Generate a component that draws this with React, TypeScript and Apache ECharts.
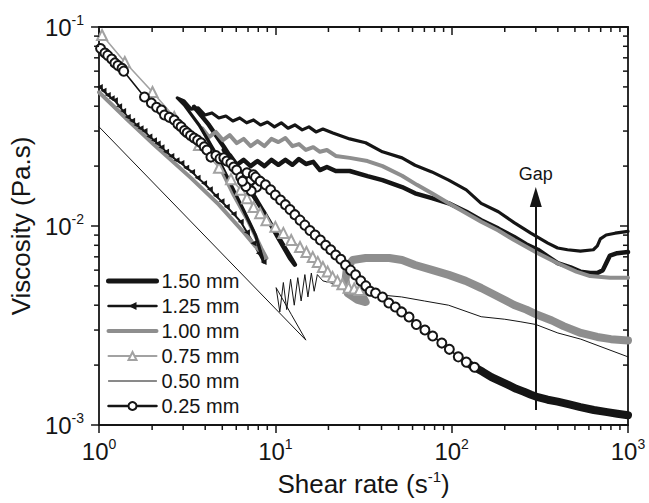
import React, { useEffect, useRef } from 'react';
import * as echarts from 'echarts';

const FONT = '"Liberation Sans", Arial, Helvetica, sans-serif';
const INK = '#151515';
const GRAY_THICK = '#8e8e8e';
const GRAY_THIN = '#a2a2a2';

const X_MIN = 1;
const X_MAX = 1000;
const Y_MIN = 0.001;
const Y_MAX = 0.1;

const legendNames = ['1.50 mm', '1.25 mm', '1.00 mm', '0.75 mm', '0.50 mm', '0.25 mm'];
const xMinorTicks = [2, 3, 4, 5, 6, 7, 8, 9, 20, 30, 40, 50, 60, 70, 80, 90, 200, 300, 400, 500, 600, 700, 800, 900];
const yMinorTicks = [0.002, 0.003, 0.004, 0.005, 0.006, 0.007, 0.008, 0.009, 0.02, 0.03, 0.04, 0.05, 0.06, 0.07, 0.08, 0.09];

// 1.50 mm (thick black)
const gap150: number[][] = [
  [3.46, 0.0397], [4.2, 0.0322], [5.1, 0.025], [6.2, 0.0191], [7.52, 0.0143], [9.14, 0.0107], [11.1, 0.008], [12.9, 0.0064],
  [12.1, 0.0069], [10.4, 0.0087], [8.57, 0.0118], [7.05, 0.0155], [5.81, 0.0203], [5.1, 0.0241], [5.51, 0.0227],
  [6.04, 0.0203], [6.61, 0.0215], [7.24, 0.02], [7.92, 0.0212], [8.67, 0.02], [9.5, 0.0215], [10.4, 0.0203], [11.4, 0.0215],
  [12.5, 0.0203], [13.6, 0.0217], [14.9, 0.0205], [16.4, 0.021], [17.9, 0.0191], [19.6, 0.0198], [22.0, 0.0189], [26.4, 0.0189],
  [33.3, 0.0178], [40.5, 0.017], [52.3, 0.0157], [62.0, 0.0146], [77.2, 0.0138], [96.2, 0.013], [121, 0.0118], [147, 0.0107],
  [184, 0.0097], [226, 0.0088], [264, 0.0081], [308, 0.0076], [399, 0.0065], [472, 0.0062], [537, 0.0059], [610, 0.0058],
  [670, 0.0058], [720, 0.006], [752, 0.0065], [790, 0.0071], [868, 0.0073], [1000, 0.0074],
];

// 1.25 mm: low-rate part with markers
const gap125Marked: number[][] = [
  [1.01, 0.05], [1.06, 0.0478], [1.12, 0.0455], [1.18, 0.0438], [1.23, 0.0428], [1.3, 0.04], [1.37, 0.0378], [1.455, 0.0353],
  [1.54, 0.0338], [1.63, 0.0322], [1.72, 0.031], [1.81, 0.03], [1.93, 0.0282], [2.05, 0.027], [2.15, 0.026], [2.26, 0.0249],
  [2.4, 0.0236], [2.57, 0.0225], [2.75, 0.0214], [2.93, 0.0207], [3.12, 0.0196], [3.37, 0.0187], [3.62, 0.0175], [3.94, 0.0164],
  [4.25, 0.0153], [4.6, 0.0142], [4.95, 0.0133], [5.3, 0.0125], [5.8, 0.0115], [6.36, 0.0105], [6.9, 0.0093], [7.52, 0.0082],
  [8.05, 0.0073], [8.57, 0.0066],
];
// 1.25 mm: return branch and plateau
const gap125Rest: number[][] = [
  [8.57, 0.0066], [7.72, 0.009], [6.61, 0.012], [5.45, 0.017], [4.48, 0.0241], [3.69, 0.0322], [3.04, 0.0406], [2.78, 0.044],
  [3.04, 0.0425], [3.33, 0.0387], [3.65, 0.0392], [3.99, 0.0361], [4.37, 0.037], [4.78, 0.0349], [5.24, 0.0357], [5.74, 0.0337],
  [6.28, 0.0349], [6.87, 0.033], [7.52, 0.0341], [8.24, 0.0322], [9.02, 0.0333], [9.88, 0.0315], [10.8, 0.033], [11.8, 0.031],
  [12.9, 0.0322], [14.2, 0.0304], [15.5, 0.0315], [17.0, 0.0297], [18.6, 0.0307], [21.2, 0.0293], [26.4, 0.0274], [32.5, 0.0262],
  [40.5, 0.0236], [52.3, 0.022], [62.0, 0.0202], [77.2, 0.0187], [96.2, 0.017], [121, 0.0152], [147, 0.013], [184, 0.0118],
  [226, 0.0104], [281, 0.0092], [351, 0.0082], [399, 0.00775], [454, 0.0076], [537, 0.00748], [636, 0.0076], [670, 0.00794],
  [697, 0.00861], [752, 0.00901], [845, 0.0092], [1000, 0.0094],
];

// 1.00 mm (thick gray)
const gap100: number[][] = [
  [1.0, 0.047], [1.455, 0.0341], [2.06, 0.0255], [3.33, 0.0174], [4.78, 0.0128], [6.61, 0.0093], [7.72, 0.0079], [8.9, 0.0069],
  [8.34, 0.0077], [7.05, 0.0105], [5.81, 0.0143], [4.78, 0.0203], [4.09, 0.0277], [3.84, 0.031], [4.2, 0.028], [4.6, 0.0297],
  [5.04, 0.027], [5.51, 0.0286], [6.04, 0.0261], [6.61, 0.0274], [7.24, 0.0252], [7.92, 0.0267], [8.67, 0.0252], [9.5, 0.0274],
  [10.4, 0.0264], [11.4, 0.0277], [12.5, 0.0252], [13.6, 0.0258], [14.9, 0.0241], [16.4, 0.0249], [17.9, 0.0236], [19.6, 0.0241],
  [22.0, 0.0225], [26.4, 0.022], [33.3, 0.0212], [40.5, 0.02], [52.3, 0.0179], [63.5, 0.0161], [77.2, 0.0146], [96.2, 0.013],
  [121, 0.0116], [147, 0.0105], [184, 0.0095], [226, 0.0085], [308, 0.0073], [399, 0.0065], [509, 0.0059], [610, 0.0056],
  [790, 0.0055], [1000, 0.0055],
];

// 0.75 mm: triangles part
const gap075Marked: number[][] = [
  [1.04, 0.0912], [1.4, 0.0667], [2.01, 0.0471], [2.67, 0.0353], [3.69, 0.0255], [4.79, 0.0196], [5.6, 0.0172], [6.36, 0.0152],
  [6.9, 0.0138], [7.52, 0.01245], [8.2, 0.0116], [8.9, 0.0107], [10.0, 0.0099], [11.1, 0.00923], [12.3, 0.0085], [13.8, 0.00784],
  [15.0, 0.0074], [16.3, 0.00698], [17.4, 0.0066], [18.6, 0.00622], [19.8, 0.0059], [21.1, 0.00555], [22.5, 0.0053], [24.0, 0.0051],
  [26.0, 0.0049], [28.0, 0.00485], [30.0, 0.00477],
];
// 0.75 mm: dense band at higher rates
const gap075Band: number[][] = [
  [30.0, 0.00477], [32.5, 0.00415], [29.3, 0.00425], [25.7, 0.0046], [25.0, 0.00536], [25.5, 0.0062], [27.5, 0.00675],
  [32.5, 0.0069], [44.3, 0.0069], [52.3, 0.00675], [62.0, 0.00637], [78.0, 0.006], [96.2, 0.00568], [120, 0.0053], [147, 0.00488],
  [185, 0.0044], [226, 0.00401], [265, 0.0038], [308, 0.00357], [370, 0.00335], [431, 0.00314], [540, 0.0029], [670, 0.00277],
  [800, 0.0027], [1000, 0.00266],
];

// 0.50 mm (thin black)
const gap050: number[][] = [
  [1.0, 0.0315], [14.9, 0.00267], [12.3, 0.0036], [10.1, 0.0049], [10.6, 0.0037], [11.1, 0.0052], [11.6, 0.0038], [12.2, 0.0054],
  [12.8, 0.004], [13.4, 0.0055], [14.0, 0.0042], [14.7, 0.0057], [15.3, 0.0044], [16.0, 0.0058], [16.6, 0.0047], [17.3, 0.0057],
  [18.6, 0.0053], [22.0, 0.0051], [27.0, 0.0049], [33.0, 0.0048], [40.0, 0.0045], [52.0, 0.0044], [70.0, 0.0042], [96.0, 0.004],
  [147, 0.0035], [200, 0.0034], [247, 0.0033], [300, 0.0032], [400, 0.0029], [540, 0.0027], [1000, 0.0022],
];

// 0.25 mm: circle markers part
const gap025Marked: number[][] = [
  [1.02, 0.078], [1.08, 0.074], [1.12, 0.072], [1.18, 0.069], [1.23, 0.066], [1.28, 0.064], [1.35, 0.062], [1.38, 0.06],
  [1.81, 0.0445], [1.98, 0.0415], [2.12, 0.0395], [2.26, 0.0383], [2.35, 0.0361], [2.5, 0.0352], [2.67, 0.0341], [2.8, 0.0325],
  [2.92, 0.0315], [3.05, 0.0302], [3.16, 0.0294], [3.3, 0.0285], [3.46, 0.0277], [3.62, 0.027], [3.79, 0.0262], [3.95, 0.025],
  [4.09, 0.0241], [4.31, 0.0222], [4.6, 0.0226], [4.85, 0.0218], [5.1, 0.022], [5.3, 0.0212], [5.59, 0.0207], [5.8, 0.0198],
  [6.03, 0.0191], [6.36, 0.0176], [6.8, 0.0172], [7.25, 0.017], [7.83, 0.0157], [7.3, 0.015], [6.8, 0.0158], [6.5, 0.0168],
  [6.9, 0.0185], [7.5, 0.0181], [7.72, 0.0176], [8.2, 0.0168], [8.79, 0.0161], [9.4, 0.0152], [10.0, 0.0143], [10.7, 0.0135],
  [11.4, 0.0128], [12.1, 0.0121], [12.9, 0.0114], [13.8, 0.0107], [14.7, 0.0101], [15.7, 0.0095], [16.8, 0.009], [18.0, 0.0085],
  [19.3, 0.008], [20.6, 0.0076], [22.0, 0.00715], [23.5, 0.0068], [25.0, 0.00637], [26.7, 0.006], [28.5, 0.00568], [30.5, 0.0053],
  [32.6, 0.005], [34.5, 0.0047], [37.0, 0.0046], [40.5, 0.0044], [44.0, 0.0041], [47.9, 0.00392], [52.0, 0.0037], [57.3, 0.00349],
  [63.0, 0.0032], [70.5, 0.003], [78.0, 0.0028], [87.9, 0.00258], [97.0, 0.0024], [109, 0.0022], [121, 0.00207], [134.7, 0.00195],
];
// 0.25 mm: dense band at higher rates
const gap025Band: number[][] = [
  [121, 0.00207], [134.7, 0.00195], [150, 0.00185], [168, 0.00174], [188, 0.00166], [209, 0.00159], [232, 0.00152], [257, 0.00147],
  [282, 0.00142], [308, 0.00138], [350, 0.00134], [399, 0.00131], [465, 0.00127], [537, 0.00123], [640, 0.00119], [762, 0.00116],
  [870, 0.00114], [1000, 0.00112],
];

const arrowX = 300;
const arrowFrom = 0.00119;
const arrowTo = 0.014;
const arrowLabel = 'Gap';

const expLabel = (v: number) => `{b|10}{s|${Math.round(Math.log10(v))}}`;
const tickRich = {
  b: { fontSize: 24, fontFamily: FONT, color: INK, lineHeight: 28 },
  s: { fontSize: 14, fontFamily: FONT, color: INK, lineHeight: 12, verticalAlign: 'top' },
};

function lineSeries(name: string, data: number[][], width: number, color: string, extra: any = {}) {
  return {
    type: 'line',
    name,
    data,
    symbol: 'none',
    lineStyle: { width, color, join: 'round', cap: 'round' },
    itemStyle: { color },
    z: 3,
    silent: true,
    ...extra,
  };
}

export default function App() {
  const ref = useRef<HTMLDivElement>(null);
  useEffect(() => {
    if (!ref.current) return;
    const chart = echarts.init(ref.current, undefined, { renderer: 'svg' });
    const axisCommon = {
      type: 'log',
      logBase: 10,
      axisLine: { show: true, lineStyle: { color: INK, width: 1.8 } },
      splitLine: { show: false },
      minorTick: { show: false },
    };
    const option: any = {
      animation: false,
      backgroundColor: '#ffffff',
      grid: { left: 94, right: 21, top: 27, bottom: 78, containLabel: false },
      legend: {
        orient: 'vertical',
        left: 101,
        top: 266,
        itemWidth: 48,
        itemHeight: 10,
        itemGap: 5,
        selectedMode: false,
        textStyle: { fontSize: 20, fontFamily: FONT, color: INK, lineHeight: 20 },
        data: [
          { name: legendNames[0], itemStyle: { opacity: 0 }, lineStyle: { width: 5 } },
          { name: legendNames[1], lineStyle: { width: 2.5 } },
          { name: legendNames[2], itemStyle: { opacity: 0 }, lineStyle: { width: 4 } },
          { name: legendNames[3], lineStyle: { width: 2 } },
          { name: legendNames[4], itemStyle: { opacity: 0 }, lineStyle: { width: 1 } },
          { name: legendNames[5], lineStyle: { width: 2.5 } },
        ],
      },
      xAxis: [
        {
          ...axisCommon,
          position: 'bottom',
          min: X_MIN,
          max: X_MAX,
          name: '{a|Shear rate (s}{s|-1}{a|)}',
          nameLocation: 'middle',
          nameGap: 44,
          nameTextStyle: {
            rich: {
              a: { fontSize: 26, fontFamily: FONT, color: INK, lineHeight: 30 },
              s: { fontSize: 15, fontFamily: FONT, color: INK, lineHeight: 14, verticalAlign: 'top' },
            },
          },
          axisTick: { show: true, inside: false, length: 8, lineStyle: { color: INK, width: 1.5 } },
          axisLabel: { show: true, margin: 12, formatter: expLabel, rich: tickRich },
        },
        {
          ...axisCommon,
          position: 'top',
          min: X_MIN,
          max: X_MAX,
          axisTick: { show: true, inside: true, length: 8, lineStyle: { color: INK, width: 1.5 } },
          axisLabel: { show: false },
        },
      ],
      yAxis: [
        {
          ...axisCommon,
          position: 'left',
          min: Y_MIN,
          max: Y_MAX,
          name: 'Viscosity (Pa.s)',
          nameLocation: 'middle',
          nameRotate: 90,
          nameGap: 54,
          nameTextStyle: { fontSize: 26, fontFamily: FONT, color: INK },
          axisTick: { show: true, inside: false, length: 8, lineStyle: { color: INK, width: 1.5 } },
          axisLabel: { show: true, margin: 15, formatter: expLabel, rich: tickRich },
        },
        {
          ...axisCommon,
          position: 'right',
          min: Y_MIN,
          max: Y_MAX,
          axisTick: { show: true, inside: true, length: 8, lineStyle: { color: INK, width: 1.5 } },
          axisLabel: { show: false },
        },
      ],
      series: [
        lineSeries(legendNames[0], gap150, 4.5, INK),
        lineSeries(legendNames[1], gap125Marked, 2, INK, {
          symbol: 'triangle',
          symbolSize: 6,
          symbolRotate: 90,
          showSymbol: true,
        }),
        lineSeries(legendNames[2], gap100, 4, GRAY_THICK),
        lineSeries(legendNames[3], gap075Marked, 1.6, GRAY_THIN, {
          symbol: 'emptyTriangle',
          symbolSize: 10,
          showSymbol: true,
          itemStyle: { color: GRAY_THIN, borderWidth: 1.6 },
        }),
        lineSeries(legendNames[4], gap050, 1, INK, {
          markLine: {
            silent: true,
            symbol: ['none', 'triangle'],
            symbolSize: [12, 20],
            lineStyle: { color: INK, width: 2, type: 'solid' },
            label: {
              show: true,
              position: 'end',
              distance: 14,
              formatter: arrowLabel,
              fontSize: 18,
              fontFamily: FONT,
              color: INK,
            },
            emphasis: { disabled: true },
            data: [[{ coord: [arrowX, arrowFrom] }, { coord: [arrowX, arrowTo] }]],
          },
        }),
        lineSeries(legendNames[5], gap025Marked, 1.6, INK, {
          symbol: 'emptyCircle',
          symbolSize: 9,
          showSymbol: true,
          itemStyle: { color: INK, borderWidth: 1.5 },
          z: 4,
        }),
        lineSeries(legendNames[1], gap125Rest, 3.2, INK),
        lineSeries(legendNames[3], gap075Band, 8, GRAY_THICK, { z: 2 }),
        lineSeries(legendNames[5], gap025Band, 8, INK, { z: 2 }),
        {
          type: 'custom',
          name: 'xMinorTickMarks',
          silent: true,
          clip: false,
          z: 10,
          data: xMinorTicks.map((v) => [v, 0.01]),
          renderItem: (_p: any, api: any) => {
            const v = api.value(0);
            const b = api.coord([v, Y_MIN]);
            const t = api.coord([v, Y_MAX]);
            const st = { stroke: INK, lineWidth: 1.5 };
            return {
              type: 'group',
              children: [
                { type: 'line', shape: { x1: b[0], y1: b[1], x2: b[0], y2: b[1] + 5 }, style: st },
                { type: 'line', shape: { x1: t[0], y1: t[1], x2: t[0], y2: t[1] + 5 }, style: st },
              ],
            };
          },
        },
        {
          type: 'custom',
          name: 'yMinorTickMarks',
          silent: true,
          clip: false,
          z: 10,
          data: yMinorTicks.map((v) => [10, v]),
          renderItem: (_p: any, api: any) => {
            const v = api.value(1);
            const l = api.coord([X_MIN, v]);
            const r = api.coord([X_MAX, v]);
            const st = { stroke: INK, lineWidth: 1.5 };
            return {
              type: 'group',
              children: [
                { type: 'line', shape: { x1: l[0] - 5, y1: l[1], x2: l[0], y2: l[1] }, style: st },
                { type: 'line', shape: { x1: r[0] - 5, y1: r[1], x2: r[0], y2: r[1] }, style: st },
              ],
            };
          },
        },
      ],
    };
    chart.setOption(option);
    return () => chart.dispose();
  }, []);
  return (
    <div
      ref={ref}
      style={{ position: 'fixed', left: 0, top: 0, width: 649, height: 503, background: '#fff' }}
    />
  );
}
